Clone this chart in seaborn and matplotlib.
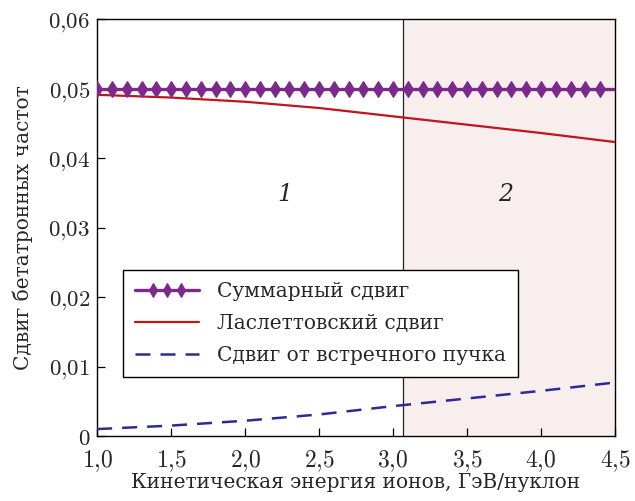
import matplotlib
matplotlib.use("Agg")
import matplotlib.pyplot as plt
import seaborn as sns
import pandas as pd
import numpy as np
from matplotlib.lines import Line2D
from matplotlib.legend_handler import HandlerLine2D

# Energy grid (GeV/nucleon) for the total tune shift
energy_fine = [1.0, 1.1, 1.2, 1.3, 1.4, 1.5, 1.6, 1.7, 1.8, 1.9,
               2.0, 2.1, 2.2, 2.3, 2.4, 2.5, 2.6, 2.7, 2.8, 2.9,
               3.0, 3.1, 3.2, 3.3, 3.4, 3.5, 3.6, 3.7, 3.8, 3.9,
               4.0, 4.1, 4.2, 4.3, 4.4, 4.5]
total_shift = [0.05, 0.05, 0.05, 0.05, 0.05, 0.05, 0.05, 0.05, 0.05, 0.05,
               0.05, 0.05, 0.05, 0.05, 0.05, 0.05, 0.05, 0.05, 0.05, 0.05,
               0.05, 0.05, 0.05, 0.05, 0.05, 0.05, 0.05, 0.05, 0.05, 0.05,
               0.05, 0.05, 0.05, 0.05, 0.05, 0.05]

# Coarser grid for the two components
energy = [1.0, 1.5, 2.0, 2.5, 3.0, 3.5, 4.0, 4.5]
laslett_shift = [0.0491, 0.0487, 0.0481, 0.0472, 0.0460, 0.0448, 0.0436, 0.0423]
beambeam_shift = [0.0010, 0.0015, 0.0022, 0.0031, 0.0043, 0.0054, 0.0065, 0.0077]

region_boundary = 3.07
xticks = [1.0, 1.5, 2.0, 2.5, 3.0, 3.5, 4.0, 4.5]
xtick_labels = ["1,0", "1,5", "2,0", "2,5", "3,0", "3,5", "4,0", "4,5"]
yticks = [0.0, 0.01, 0.02, 0.03, 0.04, 0.05, 0.06]
ytick_labels = ["0", "0,01", "0,02", "0,03", "0,04", "0,05", "0,06"]

labels = ["Суммарный сдвиг", "Ласлеттовский сдвиг", "Сдвиг от встречного пучка"]


class FullLineMarkerHandler(HandlerLine2D):
    """Legend entry: line spanning the whole handle, markers grouped in its middle."""

    def __init__(self, npts=3, marker_pad=0.9, **kw):
        super().__init__(**kw)
        self._npts = npts
        self._mpad = marker_pad

    def create_artists(self, legend, orig_handle, xdescent, ydescent,
                       width, height, fontsize, trans):
        y = ((height - ydescent) / 2.0)
        line = Line2D([-xdescent, -xdescent + width], [y, y])
        self.update_prop(line, orig_handle, legend)
        line.set_marker("")
        line.set_markevery(None)
        pad = self._mpad * fontsize
        xm = np.linspace(-xdescent + pad, -xdescent + width - pad, self._npts)
        marks = Line2D(xm, np.full_like(xm, y))
        self.update_prop(marks, orig_handle, legend)
        marks.set_linestyle("None")
        marks.set_markevery(None)
        if legend.markerscale != 1:
            marks.set_markersize(marks.get_markersize() * legend.markerscale)
        line.set_transform(trans)
        marks.set_transform(trans)
        return [line, marks]


sns.set_theme(style="white")
plt.rcParams["font.family"] = ["DejaVu Serif"]
plt.rcParams["mathtext.fontset"] = "cm"

fig = plt.figure(figsize=(6.35, 5.01), dpi=100)
ax = fig.add_axes([0.153, 0.1297, 0.8155, 0.8323])

# Shaded second region
ax.axvspan(region_boundary, 4.5, color="#f9eeee", zorder=0, lw=0)
ax.axvline(region_boundary, color="#222222", lw=0.9, zorder=1)

df_total = pd.DataFrame({"E": energy_fine, "dQ": total_shift})
df_comp = pd.DataFrame({"E": energy, "L": laslett_shift, "B": beambeam_shift})

sns.lineplot(data=df_total, x="E", y="dQ", ax=ax, color="#7b2a8c", lw=2.4,
             marker="d", markersize=8.5, markeredgewidth=0.8, markeredgecolor="#7b2a8c",
             markevery=list(range(35)), label=labels[0], zorder=4)
total_line = ax.lines[-1]
sns.lineplot(data=df_comp, x="E", y="L", ax=ax, color="#c0141e", lw=1.6,
             label=labels[1], zorder=3)
laslett_line = ax.lines[-1]
sns.lineplot(data=df_comp, x="E", y="B", ax=ax, color="#2b2b95", lw=1.8,
             label=labels[2], zorder=3)
beam_line = ax.lines[-1]
beam_line.set_dashes((6, 4))

ax.text(2.27, 0.0347, "1", fontsize=17, fontstyle="italic", ha="center", va="center")
ax.text(3.76, 0.0347, "2", fontsize=17, fontstyle="italic", ha="center", va="center")

ax.set_xlim(1.0, 4.5)
ax.set_ylim(0.0, 0.06)
ax.set_xticks(xticks)
ax.set_xticklabels(["$" + t.replace(",", "{,}") + "$" for t in xtick_labels], fontsize=17)
ax.set_yticks(yticks)
ax.set_yticklabels(["$" + t.replace(",", "{,}") + "$" for t in ytick_labels], fontsize=16.5)
ax.tick_params(axis="both", direction="in", length=6, width=0.9, color="black",
               bottom=True, left=True, top=False, right=False)
ax.tick_params(axis="x", pad=9)
ax.tick_params(axis="y", pad=5)
for s in ax.spines.values():
    s.set_color("black")
    s.set_linewidth(1.0)

ax.set_xlabel("Кинетическая энергия ионов, ГэВ/нуклон", fontsize=14.5, labelpad=-1)
ax.set_ylabel("Сдвиг бетатронных частот", fontsize=14.5, labelpad=11)

leg = ax.legend([total_line, laslett_line, beam_line], labels, loc="upper left",
                bbox_to_anchor=(0.05, 0.398), borderaxespad=0, fontsize=14.5,
                frameon=True, fancybox=False, edgecolor="black", framealpha=1,
                handlelength=3.2, handletextpad=0.88, borderpad=0.58,
                labelspacing=0.65, markerscale=0.85,
                handler_map={total_line: FullLineMarkerHandler(npts=3, marker_pad=0.9)})
leg.get_frame().set_linewidth(1.0)

fig.savefig("out.png", dpi=100)
